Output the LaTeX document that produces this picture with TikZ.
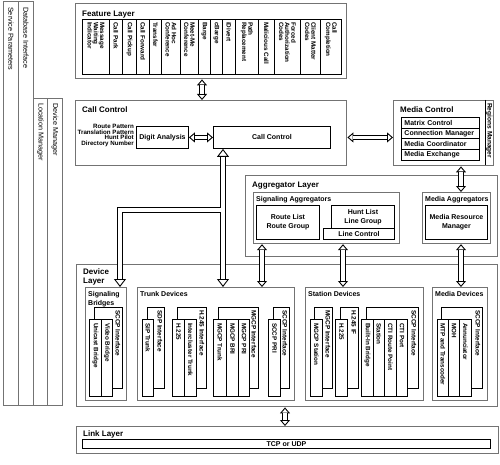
\documentclass[tikz,border=0pt]{standalone}
\usepackage{fontspec}
\setmainfont{Liberation Sans}
\usepackage{xcolor}
\usetikzlibrary{arrows.meta}
\definecolor{frameline}{RGB}{115,115,115}
\definecolor{cellline}{RGB}{0,0,0}
\newcommand{\fsz}[2]{\fontsize{#1}{#2}\selectfont}

\begin{document}
\begin{tikzpicture}[
      x=1pt,y=-1pt,
      layer/.style={draw=frameline,line width=1.4pt,fill=white,inner sep=0pt,anchor=north west},
      group/.style={draw=frameline,line width=1.2pt,fill=white,inner sep=0pt,anchor=north west},
      bar/.style={draw=frameline,line width=0.9pt,fill=white,inner sep=0pt,anchor=north west},
      cell/.style={draw=cellline,line width=0.9pt,fill=white,inner sep=0pt,anchor=north west,
                   align=center,font=\bfseries\fsz{7}{9}},
      row/.style={cell,minimum width=78,minimum height=10.75,text width=72pt,align=left,inner xsep=3pt},
      title/.style={inner sep=0pt,anchor=north west,align=left,font=\bfseries\fsz{8}{9}},
      subtitle/.style={inner sep=0pt,anchor=north west,align=left,font=\bfseries\fsz{7}{8.3}},
      vtext/.style={rotate=-90,anchor=west,align=left,inner ysep=0pt,inner xsep=3pt,
                    font=\bfseries\fsz{6.3}{6.2}},
      bartext/.style={vtext,inner xsep=6pt,font=\fsz{7.2}{8}},
      dbl/.style={line width=0.9pt,
                  {Triangle[fill=white,length=6pt,width=10pt]}-{Triangle[fill=white,length=6pt,width=10pt]},
                  postaction={draw,-,double=white,double distance=3.4pt,shorten <=5.8pt,shorten >=5.8pt}},
      dblbig/.style={line width=0.9pt,
                  {Triangle[fill=white,length=8pt,width=12pt]}-{Triangle[fill=white,length=8pt,width=12pt]},
                  postaction={draw,-,double=white,double distance=4.2pt,shorten <=7.8pt,shorten >=7.8pt}},
      sglbig/.style={line width=0.9pt,-{Triangle[fill=white,length=8pt,width=12pt]},
                  postaction={draw,-,double=white,double distance=4.2pt,shorten >=7.8pt}}]

    \useasboundingbox (0,0) rectangle (500,465);

    % side bars
    \node[bar,minimum width=15,minimum height=404] (sp) at (3,1) {};
    \node[bar,minimum width=15,minimum height=404] (dbi) at (18,1) {};
    \node[bar,minimum width=14,minimum height=307] (lm) at (33,98) {};
    \node[bar,minimum width=15,minimum height=307] (dm) at (47,98) {};
    \node[bartext] at (sp.north) {Service Parameters};
    \node[bartext] at (dbi.north) {Database Interface};
    \node[bartext,inner xsep=5pt] at (lm.north) {Location Manager};
    \node[bartext,inner xsep=5pt] at (dm.north) {Device Manager};

    % feature layer
    \node[layer,minimum width=271,minimum height=75] (fl) at (75,3) {};
    \node[title] at (82,11.2) {Feature Layer};
    \foreach \xa/\xb/\txt [count=\i] in {82/109/{Message\\Waiting\\Indicator},109/122/Call Park,
        122/136/Call Pickup,136/149/Call Forward,149/161/Transfer,161/180/{Ad Hoc\\Conference},
        180/198/{Meet-Me\\Conference},198/210/Barge,210/222/cBarge,222/235/iDivert,
        235/258/{Path\\Replacement},258/274/Malicious Call,274/300/{Forced\\Authorization\\Codes},
        300/320/{Client Matter\\Codes},320/341/{Call\\Completion}}
      {\node[cell,minimum width=\xb-\xa,minimum height=55] (f\i) at (\xa,19) {};
       \node[vtext] at (f\i.north) {\txt};}

    % call control
    \node[layer,minimum width=271,minimum height=65] (cc) at (75,100) {};
    \node[title] at (82,106.5) {Call Control};
    \node[inner sep=0pt,anchor=east,align=right,font=\bfseries\fsz{6.2}{5.6}] (pat) at (134,135.5)
      {Route Pattern\\Translation Pattern\\Hunt Pilot\\Directory Number};
    \node[cell,minimum width=52,minimum height=22] (da) at (136,126) {Digit Analysis};
    \node[cell,minimum width=117,minimum height=22] (ccin) at (213,126) {Call Control};

    % media control
    \node[layer,minimum width=100,minimum height=65] (mc) at (393,100) {};
    \node[inner sep=0pt,anchor=north west,minimum width=8,minimum height=65] (rm) at (485,100) {};
    \draw[cellline,line width=0.9pt] (rm.north west) -- (rm.south west);
    \node[vtext,font=\bfseries\fsz{6.6}{7}] at (rm.north) {Regions Manager};
    \node[title] at (400,106.5) {Media Control};
    \foreach \txt [count=\i from 0] in {Matrix Control,Connection Manager,Media Coordinator,Media Exchange}
      \node[row] (mc\i) at (401,117+\i*10.75) {\txt};

    % aggregator layer
    \node[layer,minimum width=252,minimum height=81] (al) at (245,175) {};
    \node[title] at (252,182) {Aggregator Layer};
    \node[group,minimum width=146,minimum height=51] (sa) at (253,192) {};
    \node[subtitle] at (256,196) {Signaling Aggregators};
    \node[cell,minimum width=63,minimum height=34] (rl) at (256,205) {Route List\\Route Group};
    \node[cell,minimum width=63,minimum height=23] (hl) at (331,205) {Hunt List\\Line Group};
    \node[cell,minimum width=71,minimum height=11] (lc) at (323,228) {Line Control};
    \node[group,minimum width=68,minimum height=51] (ma) at (422,192) {};
    \node[subtitle] at (425,196) {Media Aggregators};
    \node[cell,minimum width=62,minimum height=34] (mrm) at (425,205) {Media Resource\\Manager};

    % device layer
    \node[layer,minimum width=421,minimum height=142] (dl) at (76,264) {};
    \node[title] at (83,268.2) {Device\\Layer};
    \node[group,minimum width=41,minimum height=113] (sb) at (85,287) {};
    \node[subtitle] at (88,291.6) {Signaling\\Bridges};
    \node[group,minimum width=157,minimum height=113] (td) at (137,287) {};
    \node[subtitle] at (140,291.6) {Trunk Devices};
    \node[group,minimum width=118,minimum height=113] (sd) at (305,287) {};
    \node[subtitle] at (308,291.6) {Station Devices};
    \node[group,minimum width=55,minimum height=113] (md) at (432,287) {};
    \node[subtitle] at (435,291.6) {Media Devices};
    \foreach \xa/\xb/\txt [count=\i] in {94/122/SCCP Interface,147/164/SDP Interface,
        177/206/H.245 Interface,218/258/MGCP Interface,273/289/SCCP Interface,314/332/MGCP Interface,
        340/358/H.245 IF,366/418/SCCP Interface,441/482/SCCP Interface}
      {\node[cell,minimum width=\xb-\xa,minimum height=81] (if\i) at (\xa,307) {};
       \node[vtext,font=\bfseries\fsz{6.4}{7}] at ([xshift=-5pt]if\i.north east) {\txt};}
    \foreach \xa/\xb/\txt [count=\i] in {89/101/Unicast Bridge,101/112/Video Bridge,142/153/SIP Trunk,
        172/184/H.225,184/196/Intercluster Trunk,213/226/MGCP Trunk,226/238/MGCP BRI,238/249/MGCP PRI,
        268/280/SCCP PRI,310/322/MGCP Station,335/347/H.225,361/373/Built-In Bridge,373/384/Station,
        384/396/CTI Route Point,396/407/CTI Port,437/448/MTP and Transcoder,448/459/MOH,459/471/Annunciator}
      {\node[cell,minimum width=\xb-\xa,minimum height=77] (dv\i) at (\xa,319) {};
       \node[vtext,inner xsep=4pt] at (dv\i.north) {\txt};}

    % link layer
    \node[layer,minimum width=422,minimum height=27] (ll) at (76,426) {};
    \node[title] at (83,430.5) {Link Layer};
    \node[cell,minimum width=408,minimum height=9] (tcp) at (82,439) {TCP or UDP};

    % connectors
    \coordinate (xfc) at (202,0);
    \coordinate (xcc) at (223,0);
    \coordinate (xsb) at (120,0);
    \coordinate (jn) at (223,210);
    \coordinate (xrl) at (262,0);
    \coordinate (xlc) at (343,0);
    \coordinate (xma) at (461,0);
    \coordinate (xdl) at (285,0);
    \draw[dbl] (fl.south -| xfc) -- (cc.north -| xfc);
    \draw[dbl] (da.east) -- (ccin.west);
    \draw[dbl] (cc.east |- ccin) -- (mc.west |- ccin);
    \draw[dbl] (mc.south -| xma) -- (ma.north -| xma);
    \draw[dblbig] (ccin.south -| xcc) -- (td.north -| xcc);
    \draw[sglbig] ([xshift=-2.1pt]jn) -| (sb.north -| xsb);
    \draw[dbl] (sa.south -| xrl) -- (td.north -| xrl);
    \draw[dbl] (sa.south -| xlc) -- (sd.north -| xlc);
    \draw[dbl] (ma.south -| xma) -- (md.north -| xma);
    \draw[dbl] (dl.south -| xdl) -- (ll.north -| xdl);
  \end{tikzpicture}
\end{document}
